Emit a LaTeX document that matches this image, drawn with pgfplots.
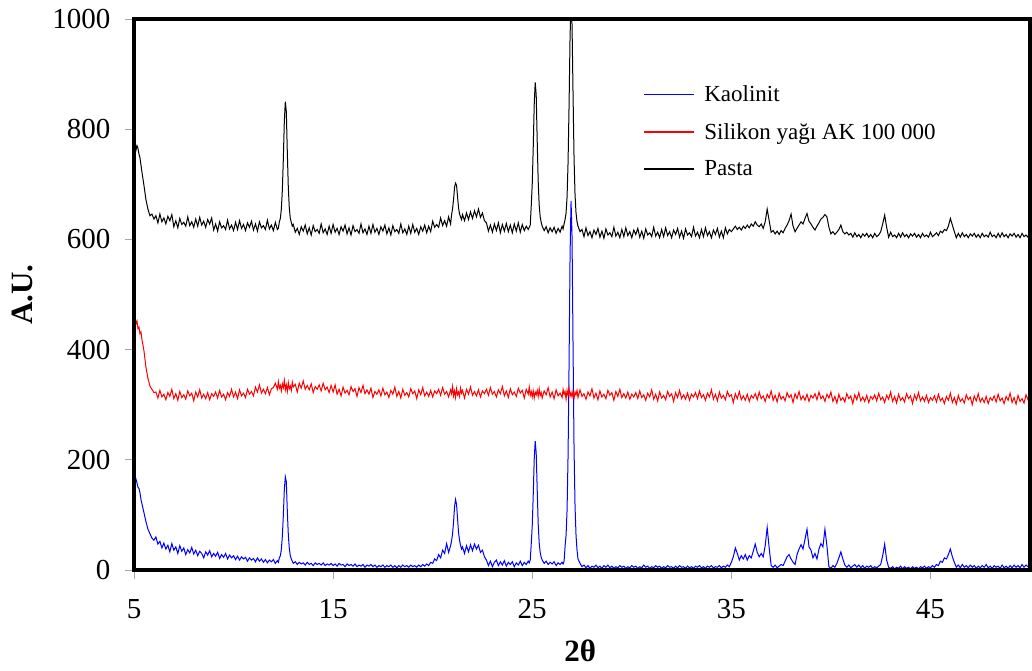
\documentclass[border=0pt]{standalone}
\usepackage{fontspec}
\setmainfont{Liberation Serif}
\usepackage{pgfplots}
\usepackage{pgfplotstable}
\pgfplotsset{compat=1.18}
\pgfplotstableread{
x K S P
5.0 160 440 750
5.05 172 458 778
5.1 165 447 762
5.15 158 452 770
5.2 150 438 765
5.25 148 441 755
5.3 140 429 748
5.35 128 432 735
5.4 120 418 722
5.5 104 398 698
5.6 88 368 672
5.7 74 348 655
5.8 66 334 643
5.9 58 328 646
6.0 54 322 637
6.1 60 323 643
6.2 47 312 630
6.3 52 326 646
6.4 40 314 632
6.5 49 319 639
6.6 38 309 628
6.7 45 322 642
6.8 33 315 634
6.9 48 328 645
7.0 36 311 623
7.1 42 320 634
7.2 30 308 621
7.3 44 324 638
7.4 34 313 627
7.5 40 318 631
7.6 28 310 624
7.7 37 325 641
7.8 31 316 625
7.9 41 321 632
8.0 29 307 622
8.1 36 323 637
8.2 26 314 624
8.3 34 327 640
8.4 30 312 626
8.5 22 319 633
8.6 33 311 622
8.7 27 322 636
8.8 35 309 628
8.9 24 320 639
9.0 30 315 617
9.1 25 323 628
9.2 32 312 615
9.3 21 326 632
9.4 28 314 621
9.5 23 319 625
9.6 30 309 618
9.7 20 322 635
9.8 27 315 619
9.9 22 328 626
10.0 26 314 616
10.1 19 323 631
10.2 25 311 618
10.3 18 327 634
10.4 24 316 620
10.5 20 321 627
10.6 23 313 616
10.7 16 328 630
10.8 22 319 622
10.9 18 324 633
11.0 21 316 617
11.1 15 332 628
11.2 22 323 615
11.3 16 336 632
11.4 20 321 621
11.5 14 328 625
11.6 19 320 618
11.7 13 331 635
11.8 18 318 619
11.9 15 329 626
12.0 19 331 616
12.1 12 339 631
12.2 17 328 618
12.25 14 342 620
12.3 22 330 632
12.35 26 335 638
12.4 37 325 655
12.45 61 338 689
12.5 99 331 746
12.55 146 344 815
12.6 169 327 850
12.65 160 336 832
12.7 107 324 758
12.75 64 340 694
12.8 39 329 657
12.85 26 334 638
12.9 20 326 631
12.95 16 341 624
13.0 12 332 627
13.1 15 337 613
13.2 10 323 620
13.3 14 339 609
13.4 11 330 623
13.5 13 343 615
13.6 9 328 626
13.7 14 335 610
13.8 10 327 621
13.9 12 338 608
14.0 8 322 625
14.1 13 333 614
14.2 10 328 618
14.3 12 336 611
14.4 9 325 628
14.5 13 339 612
14.6 8 327 619
14.7 11 332 609
14.8 9 322 624
14.9 12 335 611
15.0 8 323 627
15.1 11 336 613
15.2 7 319 620
15.3 12 328 609
15.4 9 316 623
15.5 10 332 615
15.6 6 321 626
15.7 11 326 610
15.8 8 318 621
15.9 10 333 608
16.0 7 324 625
16.1 11 329 614
16.2 6 315 618
16.3 9 331 611
16.4 7 322 628
16.5 10 335 612
16.6 5 320 619
16.7 9 327 609
16.8 7 319 624
16.9 10 330 611
17.0 6 313 627
17.1 9 324 613
17.2 5 319 620
17.3 8 327 609
17.4 6 316 623
17.5 9 330 615
17.6 5 318 626
17.7 8 323 610
17.8 6 313 621
17.9 9 326 608
18.0 5 319 625
18.1 8 332 614
18.2 4 315 618
18.3 8 324 611
18.4 5 312 628
18.5 9 328 612
18.6 6 317 619
18.7 8 322 609
18.8 5 314 624
18.9 9 329 611
19.0 6 320 627
19.1 8 325 613
19.2 5 311 620
19.3 9 327 609
19.4 6 318 623
19.5 10 331 615
19.6 7 316 626
19.7 11 323 612
19.8 8 315 624
19.9 14 326 614
20.0 12 314 633
20.1 20 325 622
20.2 17 320 627
20.3 28 328 622
20.4 22 317 639
20.5 36 331 625
20.6 30 319 634
20.7 48 324 624
20.8 32 314 641
20.9 44 327 628
20.95 53 320 645
21.0 66 333 656
21.05 88 316 673
21.1 115 325 695
21.15 128 313 702
21.2 119 329 698
21.25 93 318 677
21.3 68 323 657
21.35 54 315 646
21.4 45 330 641
21.45 38 321 636
21.5 42 326 645
21.6 30 312 634
21.7 44 328 648
21.8 33 319 636
21.9 46 332 650
22.0 35 317 638
22.1 47 324 652
22.2 38 316 641
22.3 45 327 655
22.4 32 314 640
22.5 36 325 648
22.6 24 320 634
22.7 18 328 630
22.8 8 317 615
22.9 16 331 626
23.0 6 319 613
23.1 14 324 628
23.2 18 314 616
23.3 8 327 630
23.4 15 320 612
23.5 9 333 627
23.6 17 316 615
23.7 7 325 629
23.8 14 313 614
23.9 10 329 626
24.0 15 318 612
24.1 6 323 628
24.2 13 315 615
24.3 9 330 630
24.4 16 321 613
24.5 8 326 627
24.6 14 312 616
24.7 10 328 624
24.8 16 319 618
24.85 13 332 622
24.9 18 317 626
24.95 47 324 660
25.0 80 314 700
25.05 135 325 766
25.1 201 312 845
25.15 234 323 885
25.2 212 318 862
25.25 146 326 779
25.3 84 315 705
25.35 49 329 662
25.4 32 317 641
25.45 23 322 631
25.5 18 312 624
25.6 12 325 616
25.7 16 318 623
25.8 10 331 612
25.9 14 314 621
26.0 11 323 614
26.1 15 311 622
26.2 8 327 611
26.3 13 316 620
26.4 10 321 613
26.5 14 313 624
26.55 11 328 619
26.6 16 319 628
26.65 43 324 636
26.7 63 310 648
26.75 109 326 677
26.8 208 317 740
26.85 373 330 843
26.9 571 315 968
26.95 670 322 1030
27.0 604 314 989
27.05 406 325 864
27.1 221 312 748
27.15 116 323 681
27.2 63 318 648
27.25 36 326 632
27.3 20 313 624
27.4 12 327 614
27.5 6 315 618
27.6 9 320 605
27.7 4 310 621
27.8 8 323 607
27.9 3 316 614
28.0 7 329 603
28.1 5 312 617
28.2 9 321 609
28.3 4 309 620
28.4 7 325 604
28.5 3 314 615
28.6 8 319 602
28.7 5 311 619
28.8 9 326 608
28.9 4 317 612
29.0 7 322 605
29.1 3 308 622
29.2 6 324 606
29.3 4 315 613
29.4 8 328 603
29.5 5 313 618
29.6 7 320 605
29.7 3 312 621
29.8 6 323 607
29.9 4 310 614
30.0 8 319 603
30.1 5 314 617
30.2 7 322 609
30.3 3 311 620
30.4 6 325 604
30.5 4 313 615
30.6 9 318 602
30.7 5 308 619
30.8 7 321 608
30.9 3 314 612
31.0 6 327 605
31.1 4 310 622
31.2 8 319 606
31.3 5 307 613
31.4 7 323 603
31.5 3 312 618
31.6 6 317 605
31.7 4 309 621
31.8 8 324 607
31.9 5 315 614
32.0 6 320 603
32.1 3 306 617
32.2 7 322 609
32.3 4 313 620
32.4 8 326 604
32.5 5 311 615
32.6 6 318 602
32.7 3 310 619
32.8 7 321 608
32.9 4 308 612
33.0 6 319 605
33.1 3 314 622
33.2 7 322 606
33.3 5 311 613
33.4 8 325 603
33.5 4 313 618
33.6 6 318 605
33.7 3 308 621
33.8 7 321 607
33.9 5 314 614
34.0 8 327 603
34.1 4 310 617
34.2 6 319 609
34.3 5 307 620
34.4 8 323 604
34.5 4 312 615
34.6 7 317 603
34.7 5 309 621
34.8 9 324 610
34.9 6 315 618
35.0 14 318 614
35.1 24 304 619
35.2 40 320 624
35.3 30 311 618
35.4 18 324 622
35.5 26 309 617
35.6 20 316 624
35.7 28 308 620
35.8 18 319 626
35.9 26 306 621
36.0 22 317 628
36.1 34 312 624
36.2 47 320 632
36.3 32 309 626
36.4 24 323 623
36.5 30 311 628
36.6 24 316 620
36.7 44 306 632
36.8 77 319 655
36.9 40 312 634
37.0 8 325 613
37.1 5 308 616
37.2 9 317 610
37.3 4 305 615
37.4 7 321 609
37.5 10 310 616
37.6 8 315 612
37.7 16 307 620
37.8 24 322 626
37.9 28 313 634
38.0 20 318 646
38.1 14 304 624
38.2 10 320 614
38.3 28 311 620
38.4 38 324 626
38.5 46 309 632
38.6 38 316 628
38.7 56 308 638
38.8 74 319 647
38.9 42 306 633
39.0 36 317 628
39.1 22 312 622
39.2 30 320 617
39.3 20 309 624
39.4 38 323 630
39.5 48 311 637
39.6 42 316 640
39.7 74 306 645
39.8 44 319 641
39.9 6 312 622
40.0 3 323 610
40.1 8 306 614
40.2 5 315 609
40.3 12 303 613
40.4 22 319 618
40.5 33 308 626
40.6 20 313 614
40.7 9 305 610
40.8 5 320 613
40.9 9 311 608
41.0 4 316 611
41.1 7 302 604
41.2 10 318 612
41.3 5 309 605
41.4 9 322 609
41.5 4 307 603
41.6 8 314 610
41.7 3 306 606
41.8 7 317 611
41.9 5 304 604
42.0 8 315 609
42.1 3 310 603
42.2 6 318 611
42.3 4 307 605
42.4 7 321 608
42.5 10 309 614
42.6 26 314 628
42.7 47 304 644
42.8 18 317 622
42.9 5 310 604
43.0 3 323 613
43.1 6 306 605
43.2 2 315 608
43.3 5 303 603
43.4 3 319 611
43.5 7 308 604
43.6 2 313 612
43.7 6 305 605
43.8 3 320 609
43.9 5 311 603
44.0 2 316 610
44.1 6 302 606
44.2 3 318 611
44.3 5 309 604
44.4 2 322 609
44.5 6 307 603
44.6 4 314 611
44.7 7 306 605
44.8 3 317 608
44.9 6 304 604
45.0 4 313 613
45.1 8 308 605
45.2 5 316 608
45.3 10 305 612
45.4 8 319 607
45.5 16 307 615
45.6 14 312 612
45.7 22 302 618
45.8 20 315 616
45.9 28 308 624
46.0 38 321 638
46.1 24 304 626
46.2 14 313 614
46.3 5 301 603
46.4 9 317 611
46.5 4 306 604
46.6 10 311 612
46.7 5 303 605
46.8 8 318 609
46.9 4 309 603
47.0 9 314 610
47.1 5 300 606
47.2 8 316 611
47.3 3 307 604
47.4 7 320 609
47.5 4 305 603
47.6 8 312 611
47.7 5 304 605
47.8 10 315 608
47.9 4 302 604
48.0 7 313 613
48.1 3 308 605
48.2 8 316 608
48.3 5 305 603
48.4 7 319 611
48.5 3 307 604
48.6 9 312 612
48.7 4 302 605
48.8 7 315 609
48.9 3 308 603
49.0 8 321 610
49.1 4 304 606
49.2 9 313 611
49.3 5 301 604
49.4 8 317 609
49.5 4 306 603
49.6 10 311 611
49.7 5 303 605
49.8 9 318 608
49.9 6 309 604
50.0 8 314 613
}\data
\begin{document}
\begin{tikzpicture}
\useasboundingbox (0,0) rectangle (1032pt,670pt);
\begin{axis}[
  at={(134pt,100pt)}, anchor=south west,
  scale only axis, width=896pt, height=551pt,
  xmin=5, xmax=50, ymin=0, ymax=1000,
  xtick={5,15,25,35,45}, ytick={0,200,400,600,800,1000},
  xtick pos=bottom, ytick pos=left,
  tick align=outside, major tick length=9pt,
  tick style={gray!70, line width=0.8pt},
  axis line style={line width=4pt, black},
  axis on top,
  /pgf/number format/assume math mode=true,
  /pgf/number format/1000 sep={},
  tick label style={font=\fontsize{29}{34}\selectfont},
  yticklabel style={xshift=-11pt},
  xticklabel style={anchor=north, yshift=-17pt},
  every axis y label/.style={at={(axis description cs:-0.124,0.5)}, rotate=90, anchor=center},
  every axis x label/.style={at={(axis description cs:0.498,-0.147)}, anchor=center},
  ylabel={\fontsize{31}{36}\selectfont\bfseries A.U.},
  xlabel={\fontsize{31}{36}\selectfont\bfseries 2θ},
  legend style={draw=none, fill=none, at={(axis description cs:0.568,0.883)}, anchor=north west,
    font=\fontsize{23}{27}\selectfont, row sep=16pt, inner sep=0pt},
  legend cell align=left,
  legend image code/.code={\draw[#1, line width=1.5pt] (0pt,0pt) -- (50pt,0pt); \path (58pt,0pt);},
]
\addplot[blue, line width=1pt] table[x=x, y=K]{\data};
\addlegendentry{Kaolinit}
\addplot[red, line width=1pt] table[x=x, y=S]{\data};
\addlegendentry{Silikon yağı AK 100 000}
\addplot[black, line width=1pt] table[x=x, y=P]{\data};
\addlegendentry{Pasta}
\end{axis}
\end{tikzpicture}
\end{document}
